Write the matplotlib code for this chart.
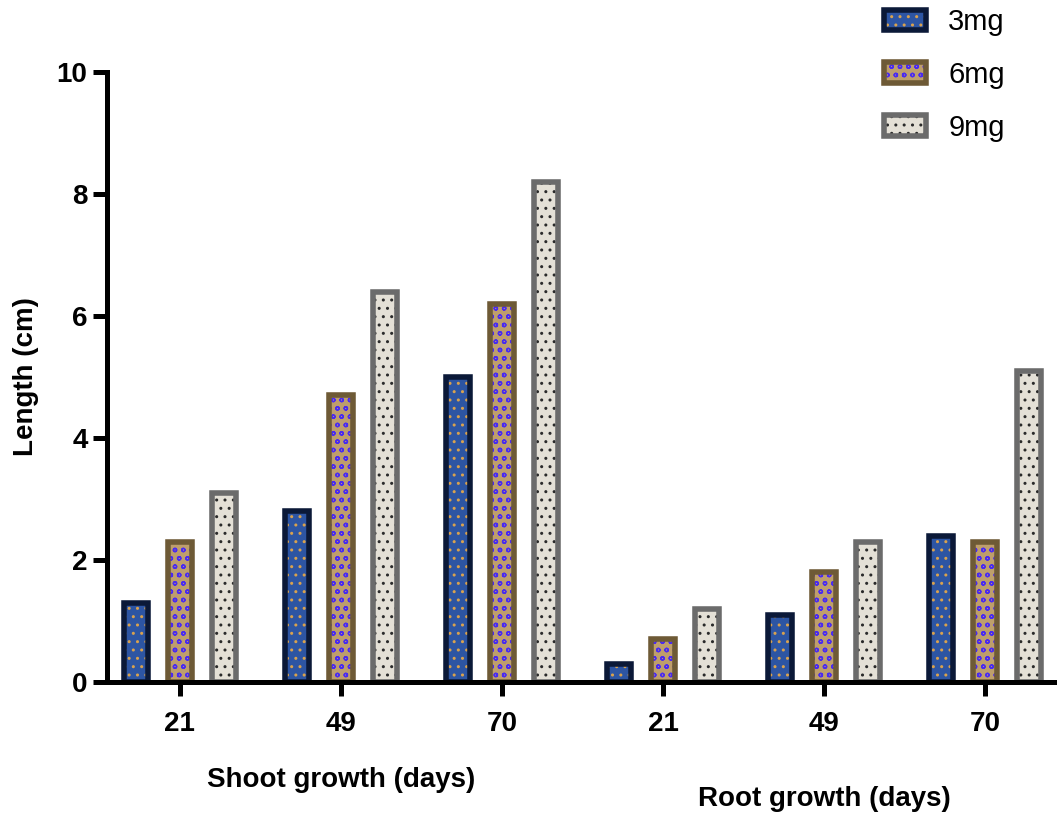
import numpy as np
import matplotlib.pyplot as plt
from matplotlib.patches import Patch
from matplotlib.transforms import blended_transform_factory

# datos
groups = ['21', '49', '70', '21', '49', '70']
series = ['3mg', '6mg', '9mg']
v3 = [1.3, 2.8, 5.0, 0.3, 1.1, 2.4]
v6 = [2.3, 4.7, 6.2, 0.7, 1.8, 2.3]
v9 = [3.1, 6.4, 8.2, 1.2, 2.3, 5.1]
section_labels = ['Shoot growth (days)', 'Root growth (days)']

face = ['#2D55A3', '#BE9E6C', '#E4E0D6']
edge = ['#0B1938', '#6E5A36', '#6B6B6B']
dotc = ['#D9A24E', '#4A2BF0', '#2A2A2A']
hatches = ['..', 'oo', '..']

plt.rcParams['font.family'] = ['Liberation Sans', 'DejaVu Sans']
plt.rcParams['hatch.linewidth'] = 1.0

fig = plt.figure(figsize=(10.57, 8.18), dpi=100)
ax = fig.add_axes([0.1012, 0.1663, 0.8988, 0.7457])

x = np.arange(len(groups))
w = 0.146
step = 0.273
handles = []
for i, vals in enumerate([v3, v6, v9]):
    pos = x + (i - 1) * step
    # relleno con patron, luego el borde grueso encima
    ax.bar(pos, vals, w, color=face[i], edgecolor=dotc[i], hatch=hatches[i], linewidth=0, zorder=2)
    ax.bar(pos, vals, w, fill=False, edgecolor=edge[i], linewidth=4, zorder=3)
    handles.append((Patch(facecolor=face[i], edgecolor=dotc[i], hatch=hatches[i], linewidth=0),
                    Patch(fill=False, edgecolor=edge[i], linewidth=4)))

ax.set_xlim(-0.453, 5.447)
ax.set_ylim(0, 10)
ax.set_yticks(range(0, 11, 2))
ax.set_xticks(x, groups)

for s in ['top', 'right']:
    ax.spines[s].set_visible(False)
for s in ['left', 'bottom']:
    ax.spines[s].set_linewidth(3.6)
    ax.spines[s].set_zorder(5)

ax.tick_params(axis='both', width=3.6, length=10, labelsize=20)
ax.tick_params(axis='y', pad=4)
ax.tick_params(axis='x', pad=11)
for lbl in ax.get_xticklabels() + ax.get_yticklabels():
    lbl.set_fontweight('bold')

ax.set_ylabel('Length (cm)', fontsize=20, fontweight='bold', labelpad=13)

tr = blended_transform_factory(ax.transData, ax.transAxes)
ax.text(1, -0.16, section_labels[0], transform=tr, ha='center', va='center',
        fontsize=20, fontweight='bold')
ax.text(4, -0.192, section_labels[1], transform=tr, ha='center', va='center',
        fontsize=20, fontweight='bold')

fig.legend(handles, series, loc='upper left', bbox_to_anchor=(884 / 1057, 1 - 8 / 818),
           frameon=False, fontsize=21, handlelength=1.45, handleheight=0.7,
           handletextpad=0.75, labelspacing=0.85, borderpad=0, borderaxespad=0)

fig.savefig('out.png', dpi=100)
